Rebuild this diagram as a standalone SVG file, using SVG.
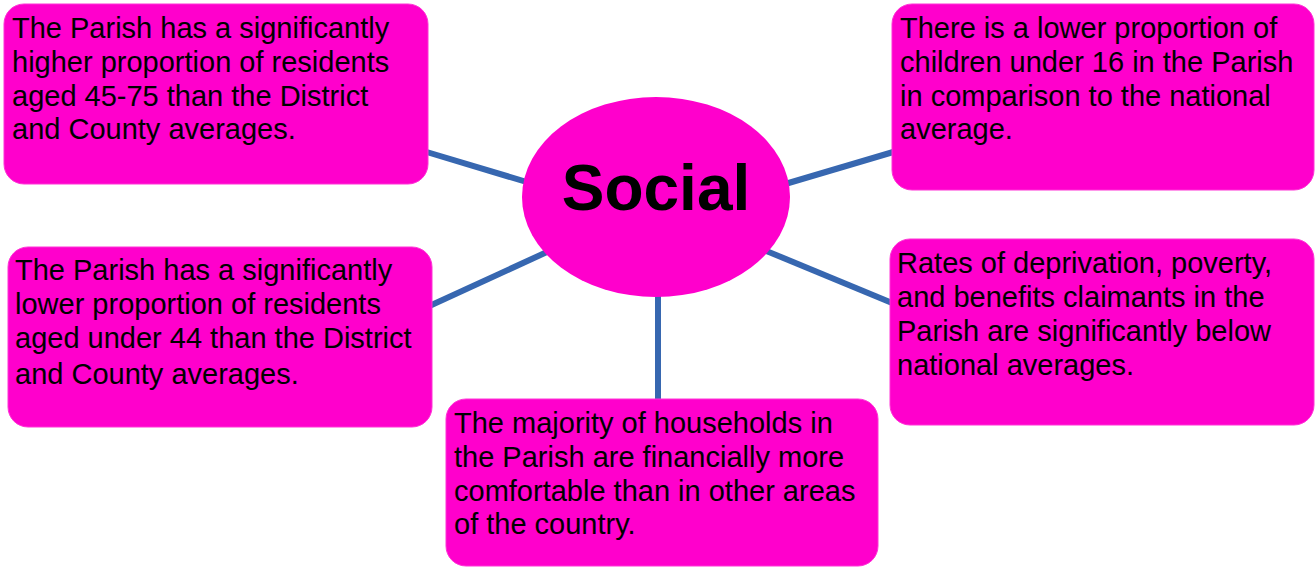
<svg xmlns="http://www.w3.org/2000/svg" width="1315" height="567" viewBox="0 0 1315 567">
<style>
.box{fill:#FF00CC;stroke:#FF33D6;stroke-width:1}
.t{font-family:"Liberation Sans",Arial,sans-serif;font-size:29px;fill:#000}
.hub{font-family:"Liberation Sans",Arial,sans-serif;font-size:64px;font-weight:bold;fill:#000}
.c{stroke:#3767B0;stroke-width:6;fill:none}
</style>
<rect width="1315" height="567" fill="#fff"/>
<g id="connectors">
<line class="c" x1="420" y1="150" x2="540" y2="186"/>
<line class="c" x1="775" y1="187" x2="900" y2="150"/>
<line class="c" x1="560" y1="246" x2="425" y2="308"/>
<line class="c" x1="752" y1="245" x2="897" y2="305"/>
<line class="c" x1="658" y1="290" x2="658" y2="405"/>
</g>
<g id="hub">
<ellipse cx="656" cy="197" rx="134" ry="100" fill="#FF00CC"/>
<text class="hub" x="656" y="210" text-anchor="middle">Social</text>
</g>
<g id="node-top-left">
<rect class="box" x="4" y="4" width="424" height="180" rx="20"/>
<text class="t"><tspan x="12" y="38">The Parish has a significantly</tspan><tspan x="12" y="72">higher proportion of residents</tspan><tspan x="12" y="106">aged 45-75 than the District</tspan><tspan x="12" y="139">and County averages.</tspan></text>
</g>
<g id="node-top-right">
<rect class="box" x="892" y="4" width="422" height="186" rx="20"/>
<text class="t"><tspan x="900" y="38">There is a lower proportion of</tspan><tspan x="900" y="72">children under 16 in the Parish</tspan><tspan x="900" y="106">in comparison to the national</tspan><tspan x="900" y="139">average.</tspan></text>
</g>
<g id="node-mid-left">
<rect class="box" x="8" y="247" width="424" height="180" rx="20"/>
<text class="t"><tspan x="15" y="280">The Parish has a significantly</tspan><tspan x="15" y="314">lower proportion of residents</tspan><tspan x="15" y="348">aged under 44 than the District</tspan><tspan x="15" y="384">and County averages.</tspan></text>
</g>
<g id="node-mid-right">
<rect class="box" x="890" y="239" width="424" height="186" rx="20"/>
<text class="t"><tspan x="897" y="273">Rates of deprivation, poverty,</tspan><tspan x="897" y="307">and benefits claimants in the</tspan><tspan x="897" y="341">Parish are significantly below</tspan><tspan x="897" y="375">national averages.</tspan></text>
</g>
<g id="node-bottom">
<rect class="box" x="446" y="399" width="432" height="167" rx="20"/>
<text class="t"><tspan x="454" y="433">The majority of households in</tspan><tspan x="454" y="467">the Parish are financially more</tspan><tspan x="454" y="501">comfortable than in other areas</tspan><tspan x="454" y="534">of the country.</tspan></text>
</g>
</svg>
